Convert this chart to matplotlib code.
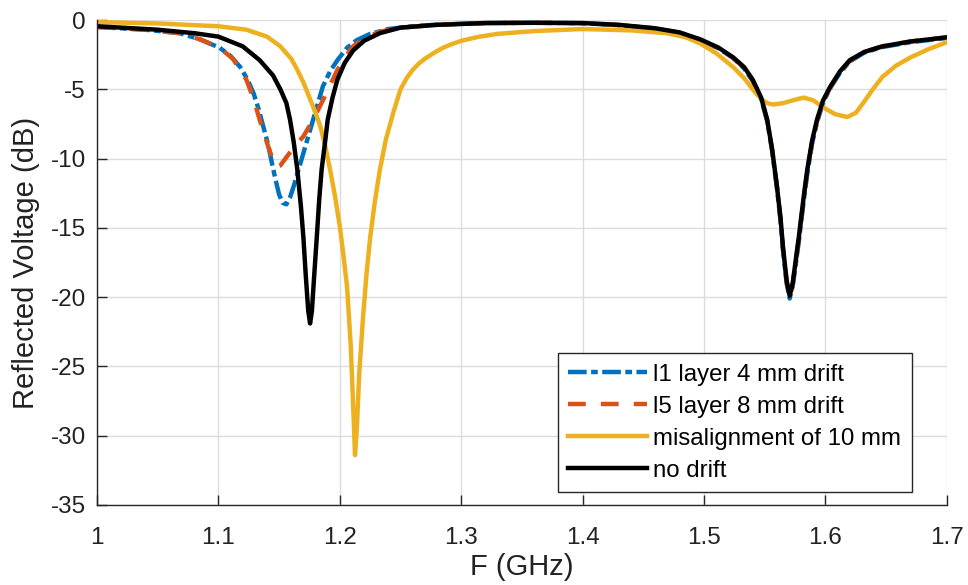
import matplotlib.pyplot as plt
import numpy as np

plt.rcParams['font.family'] = ['Liberation Sans', 'DejaVu Sans']
plt.rcParams['axes.unicode_minus'] = False

# --- Data ---
f_black = [1.00, 1.05, 1.08, 1.10, 1.12, 1.134, 1.145, 1.151, 1.156, 1.159, 1.162, 1.165,
           1.168, 1.170, 1.172, 1.174, 1.1755, 1.177, 1.179, 1.181, 1.183, 1.185, 1.188,
           1.190, 1.194, 1.198, 1.204, 1.211, 1.220, 1.233, 1.250, 1.28, 1.32, 1.36, 1.40,
           1.43, 1.46, 1.48, 1.497, 1.512, 1.524, 1.533, 1.540, 1.547, 1.552, 1.556, 1.560,
           1.563, 1.565, 1.568, 1.5705, 1.573, 1.576, 1.578, 1.582, 1.585, 1.589, 1.593,
           1.598, 1.604, 1.612, 1.620, 1.632, 1.647, 1.67, 1.70]
v_black = [-0.45, -0.7, -0.95, -1.2, -1.9, -2.9, -4.0, -5.0, -6.0, -7.2, -8.8, -10.8,
           -13.5, -15.7, -18.5, -21.0, -21.9, -21.0, -18.3, -15.7, -13.0, -10.8, -8.7,
           -7.2, -5.6, -4.3, -3.1, -2.2, -1.5, -0.95, -0.55, -0.35, -0.22, -0.2, -0.22,
           -0.35, -0.6, -0.9, -1.4, -2.0, -2.7, -3.4, -4.3, -5.6, -7.2, -9.3, -12.0,
           -14.3, -16.4, -18.8, -19.9, -19.0, -17.0, -15.7, -12.8, -10.8, -8.7, -7.2,
           -5.8, -4.8, -3.7, -2.9, -2.3, -1.9, -1.55, -1.25]

f_l1 = [1.00, 1.04, 1.068, 1.085, 1.101, 1.110, 1.118, 1.124, 1.129, 1.133, 1.137, 1.141,
        1.144, 1.147, 1.150, 1.153, 1.156, 1.159, 1.162, 1.166, 1.170, 1.174, 1.178, 1.182,
        1.186, 1.192, 1.198, 1.206, 1.214, 1.225, 1.24, 1.26, 1.28, 1.32, 1.36, 1.40,
        1.43, 1.46, 1.48, 1.497, 1.512, 1.524, 1.533, 1.540, 1.547, 1.552, 1.556, 1.560,
        1.563, 1.565, 1.568, 1.5705, 1.573, 1.576, 1.578, 1.582, 1.585, 1.589, 1.593,
        1.598, 1.604, 1.612, 1.620, 1.632, 1.647, 1.67, 1.70]
v_l1 = [-0.5, -0.7, -0.95, -1.4, -2.0, -2.6, -3.4, -4.3, -5.3, -6.4, -7.7, -9.0,
        -10.3, -11.5, -12.6, -13.2, -13.3, -12.8, -12.0, -10.8, -9.6, -8.4, -7.2, -6.0,
        -4.8, -3.7, -2.9, -2.0, -1.45, -1.0, -0.65, -0.45, -0.33, -0.22, -0.2, -0.23,
        -0.37, -0.62, -0.92, -1.45, -2.05, -2.75, -3.5, -4.4, -5.7, -7.3, -9.4, -12.1,
        -14.5, -16.6, -19.0, -20.1, -19.2, -17.3, -16.0, -13.1, -11.1, -8.9, -7.4,
        -5.95, -4.9, -3.8, -3.0, -2.35, -1.95, -1.6, -1.3]

f_l5 = [1.00, 1.04, 1.068, 1.085, 1.101, 1.112, 1.123, 1.129, 1.134, 1.138, 1.142, 1.145,
        1.148, 1.151, 1.156, 1.163, 1.170, 1.178, 1.186, 1.192, 1.198, 1.205, 1.211, 1.22,
        1.233, 1.25, 1.28, 1.32, 1.36, 1.40, 1.43, 1.46, 1.48, 1.497, 1.512, 1.524,
        1.533, 1.540, 1.547, 1.552, 1.556, 1.560, 1.563, 1.565, 1.568, 1.5705, 1.573,
        1.576, 1.578, 1.582, 1.585, 1.589, 1.593, 1.598, 1.604, 1.612, 1.620, 1.632,
        1.647, 1.67, 1.70]
v_l5 = [-0.5, -0.7, -0.95, -1.4, -2.0, -2.8, -4.3, -5.7, -7.2, -8.3, -9.4, -10.1,
        -10.6, -10.5, -9.9, -9.1, -8.4, -7.2, -5.8, -4.7, -3.6, -2.6, -1.9, -1.3,
        -0.85, -0.55, -0.35, -0.22, -0.2, -0.23, -0.37, -0.62, -0.92, -1.45, -2.05, -2.75,
        -3.45, -4.35, -5.65, -7.25, -9.35, -12.0, -14.4, -16.5, -18.9, -20.0, -19.1,
        -17.1, -15.8, -12.9, -10.9, -8.8, -7.3, -5.9, -4.85, -3.75, -2.95, -2.3,
        -1.9, -1.55, -1.25]

f_mis = [1.00, 1.05, 1.10, 1.123, 1.14, 1.151, 1.160, 1.165, 1.170, 1.175, 1.180, 1.184,
         1.188, 1.192, 1.196, 1.200, 1.203, 1.206, 1.209, 1.2115, 1.2125, 1.214, 1.216,
         1.219, 1.222, 1.225, 1.229, 1.233, 1.238, 1.244, 1.250, 1.255, 1.26, 1.265, 1.27,
         1.277, 1.285, 1.292, 1.30, 1.315, 1.33, 1.36, 1.40, 1.44, 1.469, 1.485, 1.497,
         1.51, 1.524, 1.533, 1.540, 1.547, 1.552, 1.557, 1.565, 1.573, 1.582, 1.590,
         1.598, 1.608, 1.618, 1.625, 1.631, 1.639, 1.647, 1.658, 1.670, 1.685, 1.700]
v_mis = [-0.15, -0.25, -0.45, -0.7, -1.2, -1.9, -2.8, -3.6, -4.5, -5.6, -6.7, -7.7,
         -9.1, -10.8, -12.7, -14.9, -17.0, -19.3, -23.5, -29.0, -31.4, -29.5, -25.5,
         -21.6, -18.3, -15.7, -13.0, -10.8, -8.6, -6.7, -5.0, -4.2, -3.6, -3.15, -2.8,
         -2.4, -2.0, -1.75, -1.5, -1.2, -1.0, -0.8, -0.65, -0.75, -0.95, -1.25, -1.7,
         -2.4, -3.4, -4.2, -5.0, -5.7, -6.0, -6.1, -6.0, -5.8, -5.6, -5.8,
         -6.3, -6.8, -7.0, -6.7, -6.0, -5.0, -4.1, -3.3, -2.7, -2.1, -1.6]

labels = ["l1 layer 4 mm drift", "l5 layer 8 mm drift", "misalignment of 10 mm", "no drift"]
x_ticks = [1.0, 1.1, 1.2, 1.3, 1.4, 1.5, 1.6, 1.7]
x_ticklabels = ["1", "1.1", "1.2", "1.3", "1.4", "1.5", "1.6", "1.7"]
y_ticks = [0, -5, -10, -15, -20, -25, -30, -35]

# --- Plot ---
fig = plt.figure(figsize=(9.68, 5.85), dpi=100)
ax = fig.add_axes([0.1002, 0.1368, 0.878, 0.829])

lw = 3.2
ax.plot(f_l1, v_l1, color="#0072BD", lw=lw, linestyle=(0, (4.2, 1.0, 1.5, 1.0)), label=labels[0])
ax.plot(f_l5, v_l5, color="#D95319", lw=lw, linestyle=(0, (4.0, 3.4)), label=labels[1])
ax.plot(f_mis, v_mis, color="#EDB120", lw=lw, label=labels[2])
ax.plot(f_black, v_black, color="black", lw=lw, label=labels[3])

ax.set_xlim(1.0, 1.7)
ax.set_ylim(-35, 0)
ax.set_xticks(x_ticks)
ax.set_xticklabels(x_ticklabels)
ax.set_yticks(y_ticks)
ax.tick_params(direction="in", labelsize=17.5, length=7, width=1, colors="#262626",
               labelcolor="#222222")
ax.tick_params(axis="x", pad=16)
ax.tick_params(axis="y", pad=8)
ax.grid(True, color="#dcdcdc", lw=1)
ax.set_axisbelow(True)

ax.set_xlabel("F (GHz)", fontsize=21, labelpad=3, color="#222222")
ax.set_ylabel("Reflected Voltage (dB)", fontsize=21, labelpad=8, color="#222222")

for s in ["top", "right"]:
    ax.spines[s].set_visible(False)
for s in ["left", "bottom"]:
    ax.spines[s].set_color("#262626")
    ax.spines[s].set_linewidth(1)

leg = ax.legend(loc="upper left", bbox_to_anchor=(0.542, 0.313), borderaxespad=0,
                fontsize=17.3, handlelength=3.3, handletextpad=0.25, labelspacing=0.42,
                fancybox=False, framealpha=1, edgecolor="#262626", borderpad=0.43)
leg.get_frame().set_linewidth(1)

plt.savefig("out.png", dpi=100)
